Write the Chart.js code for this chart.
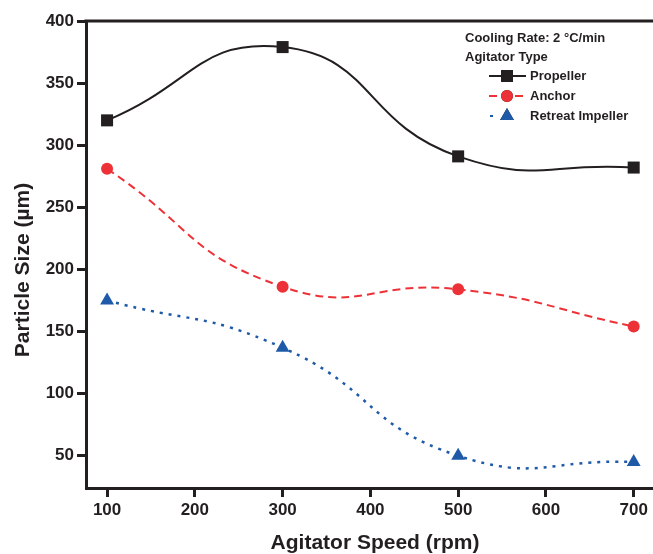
<!DOCTYPE html>
<html>
<head>
<meta charset="utf-8">
<script src="https://cdn.jsdelivr.net/npm/chart.js@4.4.0/dist/chart.umd.min.js"></script>
<style>
  html, body { margin: 0; padding: 0; background: #fff; }
  #wrap { width: 653px; height: 554px; position: relative; }
</style>
</head>
<body>
<div id="wrap"><canvas id="chart"></canvas></div>
<script>
'use strict';

// data
var speeds = [100, 300, 500, 700];
var propeller = [320, 379, 291, 282];
var anchor = [281, 186, 184, 154];
var retreat = [175, 137, 50, 45];
var xTicks = [100, 200, 300, 400, 500, 600, 700];
var yTicks = [50, 100, 150, 200, 250, 300, 350, 400];
var seriesNames = ['Propeller', 'Anchor', 'Retreat Impeller'];

var INK = '#231f20';
var RED = '#ed3237';
var BLUE = '#1e5aa8';
var FONT = "'Liberation Sans', Arial, Helvetica, sans-serif";

function pts(ys) {
    return speeds.map(function(x, i) { return { x: x, y: ys[i] }; });
}

// ------------------------------------------------------- //
// Top frame line, axis titles and the inset legend
// ------------------------------------------------------ //
var extras = {
    id: 'extras',
    afterDraw: function(chart) {
        var ctx = chart.ctx;
        var a = chart.chartArea;
        ctx.save();
        ctx.strokeStyle = INK;
        ctx.lineWidth = 3;
        ctx.beginPath();
        ctx.moveTo(a.left - 1.5, a.top);
        ctx.lineTo(chart.width, a.top);
        ctx.stroke();

        ctx.fillStyle = INK;
        ctx.font = 'bold 21px ' + FONT;
        ctx.textAlign = 'center';
        ctx.textBaseline = 'middle';
        ctx.fillText('Agitator Speed (rpm)', 375, 543);
        ctx.save();
        ctx.translate(23, 270);
        ctx.rotate(-Math.PI / 2);
        ctx.fillText('Particle Size (\u00b5m)', 0, 0);
        ctx.restore();

        ctx.font = 'bold 13px ' + FONT;
        ctx.textAlign = 'left';
        ctx.fillText('Cooling Rate: 2 \u00b0C/min', 465, 38);
        ctx.fillText('Agitator Type', 465, 57);

        var rows = [
            { y: 76, color: INK, dash: [], style: 'rect', r: 8.5 },
            { y: 96, color: RED, dash: [8, 5], style: 'circle', r: 6 },
            { y: 116, color: BLUE, dash: [3, 6], style: 'triangle', r: 8 }
        ];
        rows.forEach(function(r, i) {
            ctx.strokeStyle = r.color;
            ctx.lineWidth = 2;
            ctx.setLineDash(r.dash);
            ctx.beginPath();
            if (r.style === 'triangle') {
                ctx.moveTo(490, r.y);
                ctx.lineTo(493, r.y);
            } else {
                ctx.moveTo(489, r.y);
                ctx.lineTo(526, r.y);
            }
            ctx.stroke();
            ctx.setLineDash([]);
            Chart.helpers.drawPoint(ctx, {
                pointStyle: r.style,
                radius: r.r,
                rotation: 0,
                borderWidth: 0
            }, 507, r.y);
            ctx.fillStyle = r.color;
            ctx.fill();
            ctx.fillStyle = INK;
            ctx.fillText(seriesNames[i], 530, r.y);
        });
        ctx.restore();
    }
};

function keepTicks(list) {
    return function(scale) {
        scale.ticks = list.map(function(v) { return { value: v }; });
    };
}

var chart = new Chart(document.getElementById('chart'), {
    type: 'line',
    data: {
        datasets: [{
            label: seriesNames[0],
            data: pts(propeller),
            borderColor: INK,
            backgroundColor: INK,
            borderWidth: 2,
            pointStyle: 'rect',
            pointRadius: 8.5,
            pointBorderWidth: 0,
            tension: 0.5
        }, {
            label: seriesNames[1],
            data: pts(anchor),
            borderColor: RED,
            backgroundColor: RED,
            borderWidth: 2,
            borderDash: [8, 5],
            pointStyle: 'circle',
            pointRadius: 6,
            pointBorderWidth: 0,
            tension: 0.5
        }, {
            label: seriesNames[2],
            data: pts(retreat),
            borderColor: BLUE,
            backgroundColor: BLUE,
            borderWidth: 2.5,
            borderDash: [3, 6],
            pointStyle: 'triangle',
            pointRadius: 8,
            pointBorderWidth: 0,
            tension: 0.5
        }]
    },
    options: {
        responsive: true,
        maintainAspectRatio: false,
        animation: false,
        layout: { autoPadding: false, padding: { top: 21, right: 0, left: 0, bottom: 0 } },
        plugins: {
            legend: { display: false },
            tooltip: { enabled: false }
        },
        scales: {
            x: {
                type: 'linear',
                min: 76,
                max: 722,
                afterBuildTicks: keepTicks(xTicks),
                afterFit: function(s) {
                    s.height = 66;
                    s.paddingLeft = 0;
                    s.paddingRight = 0;
                },
                grid: { drawOnChartArea: false, color: INK, lineWidth: 3, tickLength: 9 },
                border: { color: INK, width: 3 },
                ticks: {
                    color: INK,
                    padding: 3,
                    maxRotation: 0,
                    font: { family: FONT, size: 17, weight: 'bold' }
                }
            },
            y: {
                min: 24,
                max: 400,
                afterBuildTicks: keepTicks(yTicks),
                afterFit: function(s) {
                    s.width = 86;
                    s.paddingTop = 0;
                    s.paddingBottom = 0;
                },
                grid: { drawOnChartArea: false, color: INK, lineWidth: 3, tickLength: 9 },
                border: { color: INK, width: 3 },
                ticks: {
                    color: INK,
                    padding: 3,
                    font: { family: FONT, size: 17, weight: 'bold' }
                }
            }
        }
    },
    plugins: [extras]
});
</script>
</body>
</html>
